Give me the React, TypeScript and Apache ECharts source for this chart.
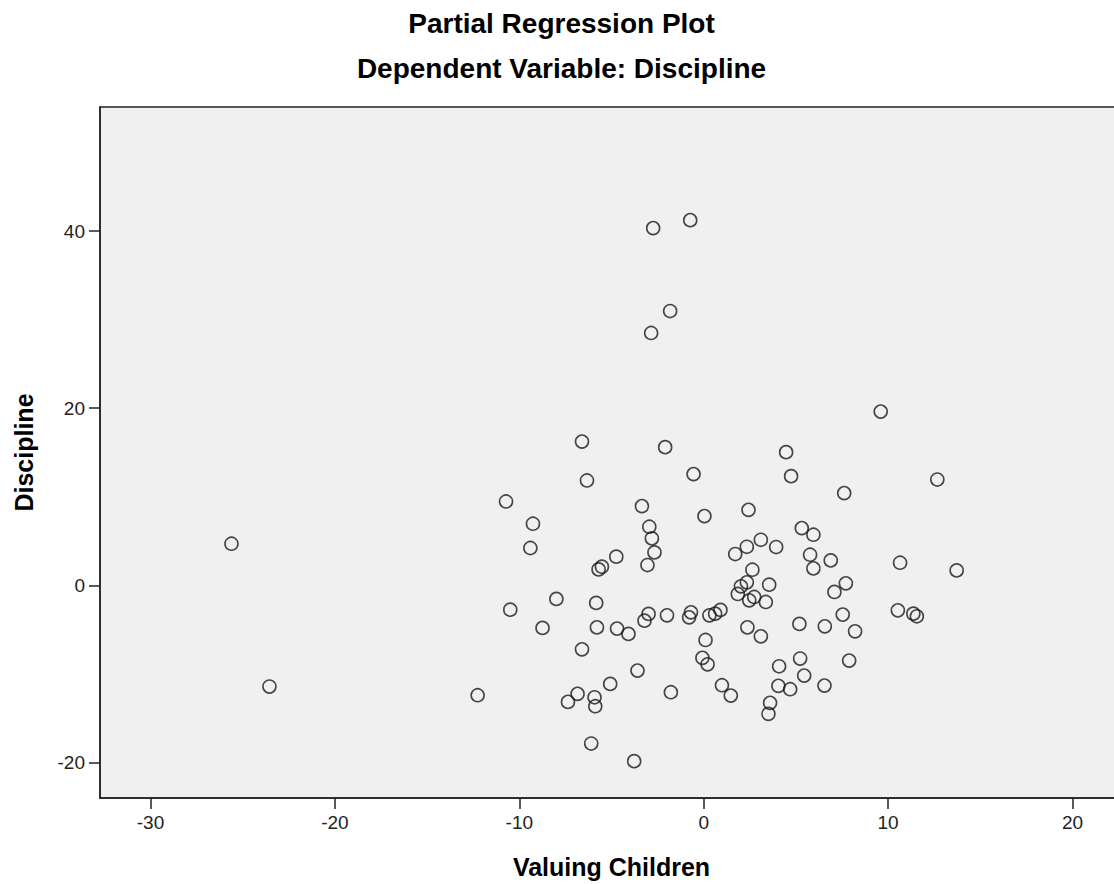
import React, { useEffect, useRef } from "react";
import * as echarts from "echarts";

const titleText = "Partial Regression Plot";
const subtitleText = "Dependent Variable: Discipline";
const xAxisName = "Valuing Children";
const yAxisName = "Discipline";
const xTicks = [-30, -20, -10, 0, 10, 20];
const yTicks = [-20, 0, 20, 40];

const valuingChildren = [
  -25.61, -23.55, -12.26, -10.72, -9.26, -9.4, -10.49, -8.74, -7.99, -6.6,
  -6.33, -6.6, -7.36, -6.84, -6.1, -5.92, -5.88, -5.7, -5.52, -5.83,
  -5.79, -4.74, -4.7, -4.08, -5.07, -3.77, -3.59, -3.35, -2.95, -2.81,
  -2.67, -3.05, -3.21, -2.99, -2.09, -1.99, -1.78, -2.74, -0.73, -1.82,
  -2.85, -0.55, 0.04, -0.69, -0.79, 0.1, -0.07, 0.21, 0.31, 0.62,
  0.91, 0.99, 1.47, 1.71, 1.85, 2.02, 2.34, 2.34, 2.43, 2.47,
  2.74, 2.64, 3.1, 3.37, 3.55, 2.37, 3.1, 3.51, 3.6, 3.93,
  4.09, 4.05, 4.69, 4.47, 4.74, 5.19, 5.23, 5.45, 5.32, 5.95,
  5.77, 5.95, 6.57, 6.55, 6.89, 7.09, 7.71, 7.54, 8.21, 7.89,
  7.62, 9.6, 10.53, 11.37, 11.56, 10.65, 12.67, 13.72,
];

const discipline = [
  4.7, -11.42, -12.4, 9.47, 6.96, 4.22, -2.74, -4.8, -1.53, 16.23,
  11.84, -7.22, -13.15, -12.24, -17.85, -12.63, -13.64, 1.8, 2.11, -1.98,
  -4.74, 3.24, -4.88, -5.48, -11.12, -19.84, -9.62, 8.95, 6.62, 5.3,
  3.72, 2.3, -3.98, -3.22, 15.6, -3.38, -12.06, 40.33, 41.23, 30.97,
  28.49, 12.56, 7.82, -3.04, -3.61, -6.16, -8.18, -8.91, -3.38, -3.19,
  -2.77, -11.27, -12.44, 3.54, -0.97, -0.11, 0.34, 4.36, 8.53, -1.69,
  -1.31, 1.77, 5.15, -1.87, 0.08, -4.74, -5.75, -14.5, -13.26, 4.33,
  -9.13, -11.34, -11.72, 15.04, 12.33, -4.35, -8.26, -10.18, 6.47, 5.72,
  3.46, 1.92, -4.62, -11.31, 2.82, -0.74, 0.23, -3.3, -5.19, -8.49,
  10.42, 19.62, -2.82, -3.19, -3.49, 2.56, 11.95, 1.69,
];

const fontFamily = '"Liberation Sans", Arial, Helvetica, sans-serif';

export default function App() {
  const ref = useRef<HTMLDivElement>(null);

  useEffect(() => {
    if (!ref.current) return;
    const chart = echarts.init(ref.current, null, { renderer: "svg" });
    const points = valuingChildren.map((x, i) => [x, discipline[i]]);

    chart.setOption({
      animation: false,
      backgroundColor: "#ffffff",
      title: [
        {
          text: titleText,
          left: "center",
          top: 9,
          padding: 0,
          textStyle: { fontFamily, fontWeight: "bold", fontSize: 28, color: "#000000" },
        },
        {
          text: subtitleText,
          left: "center",
          top: 54,
          padding: 0,
          textStyle: { fontFamily, fontWeight: "bold", fontSize: 28, color: "#000000" },
        },
      ],
      grid: {
        left: 100,
        right: 0,
        top: 107,
        bottom: 85,
        show: true,
        backgroundColor: "#f0f0f0",
        borderColor: "#222222",
        borderWidth: 1.5,
      },
      xAxis: {
        type: "value",
        min: -32.74,
        max: 22.74,
        name: xAxisName,
        nameLocation: "middle",
        nameGap: 56,
        nameTextStyle: { fontFamily, fontWeight: "bold", fontSize: 25, color: "#000000" },
        axisLine: { show: true, onZero: false, lineStyle: { color: "#222222", width: 1.5 } },
        axisTick: {
          show: true,
          inside: false,
          length: 11,
          customValues: xTicks,
          lineStyle: { color: "#222222", width: 1.5 },
        },
        axisLabel: {
          customValues: xTicks,
          margin: 15,
          fontFamily,
          fontSize: 19,
          color: "#222222",
        },
        splitLine: { show: false },
      },
      yAxis: {
        type: "value",
        min: -24,
        max: 54,
        name: yAxisName,
        nameLocation: "middle",
        nameGap: 64,
        nameTextStyle: { fontFamily, fontWeight: "bold", fontSize: 25, color: "#000000" },
        axisLine: { show: true, onZero: false, lineStyle: { color: "#222222", width: 1.5 } },
        axisTick: {
          show: true,
          inside: false,
          length: 11,
          customValues: yTicks,
          lineStyle: { color: "#222222", width: 1.5 },
        },
        axisLabel: {
          customValues: yTicks,
          margin: 15,
          fontFamily,
          fontSize: 19,
          color: "#222222",
        },
        splitLine: { show: false },
      },
      series: [
        {
          type: "scatter",
          data: points,
          symbol: "circle",
          symbolSize: 13,
          itemStyle: {
            color: "rgba(0,0,0,0)",
            borderColor: "#1a1a1a",
            borderWidth: 1.6,
          },
          emphasis: { disabled: true },
        },
      ],
    });

    return () => {
      chart.dispose();
    };
  }, []);

  return (
    <div
      style={{
        position: "absolute",
        left: 0,
        top: 0,
        width: 1114,
        height: 884,
        overflow: "hidden",
      }}
    >
      <div ref={ref} style={{ width: 1123, height: 884 }} />
    </div>
  );
}
